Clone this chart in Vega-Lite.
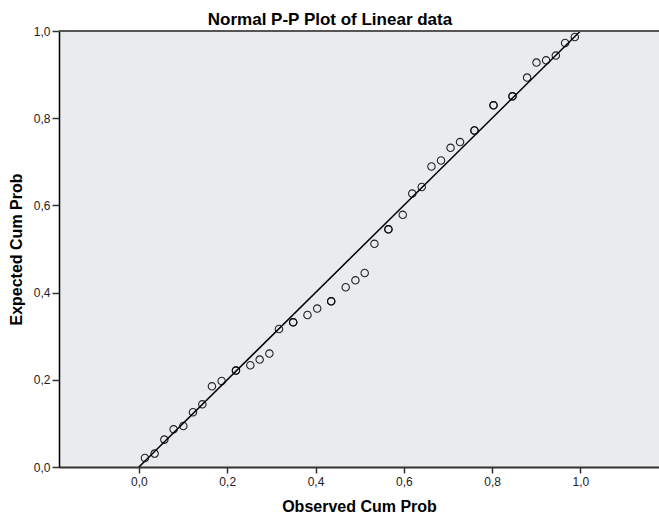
{
  "$schema": "https://vega.github.io/schema/vega-lite/v6.json",
  "width": 600,
  "height": 436,
  "autosize": {"type": "none"},
  "padding": {"left": 59, "top": 31, "right": 0, "bottom": 50},
  "background": "white",
  "config": {
    "view": {"fill": "#EAEBEE", "stroke": null},
    "font": "Liberation Sans"
  },
  "title": {
    "text": "Normal P-P Plot of Linear data",
    "fontSize": 17,
    "fontWeight": "bold",
    "font": "Liberation Sans",
    "color": "#000000",
    "anchor": "middle",
    "dx": -29,
    "dy": 23,
    "offset": 6,
    "baseline": "alphabetic"
  },
  "datasets": {
    "pts": [
      {"obs": 0.0136, "exp": 0.0206},
      {"obs": 0.0356, "exp": 0.0307},
      {"obs": 0.0576, "exp": 0.0628},
      {"obs": 0.0786, "exp": 0.0865},
      {"obs": 0.1006, "exp": 0.0940},
      {"obs": 0.1224, "exp": 0.1255},
      {"obs": 0.1437, "exp": 0.1438},
      {"obs": 0.1654, "exp": 0.1851},
      {"obs": 0.1874, "exp": 0.1972},
      {"obs": 0.2198, "exp": 0.2211},
      {"obs": 0.2198, "exp": 0.2211},
      {"obs": 0.2524, "exp": 0.2333},
      {"obs": 0.2735, "exp": 0.2463},
      {"obs": 0.2955, "exp": 0.2601},
      {"obs": 0.3172, "exp": 0.3165},
      {"obs": 0.3494, "exp": 0.3319},
      {"obs": 0.3494, "exp": 0.3319},
      {"obs": 0.3818, "exp": 0.3486},
      {"obs": 0.4038, "exp": 0.3633},
      {"obs": 0.4355, "exp": 0.3800},
      {"obs": 0.4355, "exp": 0.3800},
      {"obs": 0.4684, "exp": 0.4122},
      {"obs": 0.4904, "exp": 0.4282},
      {"obs": 0.5114, "exp": 0.4450},
      {"obs": 0.5334, "exp": 0.5119},
      {"obs": 0.5651, "exp": 0.5452},
      {"obs": 0.5651, "exp": 0.5452},
      {"obs": 0.5976, "exp": 0.5784},
      {"obs": 0.6191, "exp": 0.6271},
      {"obs": 0.6406, "exp": 0.6422},
      {"obs": 0.6626, "exp": 0.6892},
      {"obs": 0.6843, "exp": 0.7030},
      {"obs": 0.7059, "exp": 0.7321},
      {"obs": 0.7274, "exp": 0.7452},
      {"obs": 0.7600, "exp": 0.7718},
      {"obs": 0.7600, "exp": 0.7718},
      {"obs": 0.8031, "exp": 0.8296},
      {"obs": 0.8031, "exp": 0.8296},
      {"obs": 0.8461, "exp": 0.8502},
      {"obs": 0.8461, "exp": 0.8502},
      {"obs": 0.8792, "exp": 0.8931},
      {"obs": 0.9005, "exp": 0.9275},
      {"obs": 0.9223, "exp": 0.9328},
      {"obs": 0.9443, "exp": 0.9436},
      {"obs": 0.9653, "exp": 0.9725},
      {"obs": 0.9873, "exp": 0.9862}
    ],
    "diag": [
      {"obs": 0, "exp": 0},
      {"obs": 1, "exp": 1}
    ]
  },
  "layer": [
    {
      "data": {"name": "diag"},
      "mark": {"type": "line", "color": "#000000", "strokeWidth": 1.5},
      "encoding": {
        "x": {
          "field": "obs", "type": "quantitative",
          "scale": {"domain": [-0.181, 1.178], "nice": false, "zero": false},
          "axis": {
            "title": "Observed Cum Prob",
            "titleFontSize": 16,
            "titleFontWeight": "bold",
            "titleColor": "#000000",
            "titlePadding": 11,
            "values": [0, 0.2, 0.4, 0.6, 0.8, 1.0],
            "labelExpr": "replace(format(datum.value, '.1f'), '.', ',')",
            "labelFontSize": 12,
            "labelColor": "#222222",
            "labelPadding": 3,
            "domainColor": "#333333",
            "domainWidth": 2,
            "tickColor": "#333333",
            "tickWidth": 1.5,
            "tickSize": 6,
            "grid": false
          }
        },
        "y": {
          "field": "exp", "type": "quantitative",
          "scale": {"domain": [0, 1], "nice": false, "zero": false},
          "axis": {
            "title": "Expected Cum Prob",
            "titleFontSize": 16,
            "titleFontWeight": "bold",
            "titleColor": "#000000",
            "titlePadding": 9,
            "values": [0, 0.2, 0.4, 0.6, 0.8, 1.0],
            "labelExpr": "replace(format(datum.value, '.1f'), '.', ',')",
            "labelFontSize": 12,
            "labelColor": "#222222",
            "labelPadding": 2,
            "domainColor": "#000000",
            "domainWidth": 1.5,
            "tickColor": "#333333",
            "tickWidth": 1.5,
            "tickSize": 7,
            "grid": false
          }
        }
      }
    },
    {
      "data": {"name": "pts"},
      "mark": {"type": "point", "shape": "circle", "filled": false, "stroke": "#000000", "strokeWidth": 1.1, "opacity": 0.85, "size": 55},
      "encoding": {
        "x": {"field": "obs", "type": "quantitative"},
        "y": {"field": "exp", "type": "quantitative"}
      }
    },
    {
      "data": {"values": [{"top": 1}]},
      "mark": {"type": "rule", "color": "#555555", "strokeWidth": 2},
      "encoding": {"y": {"field": "top", "type": "quantitative"}}
    }
  ]
}
